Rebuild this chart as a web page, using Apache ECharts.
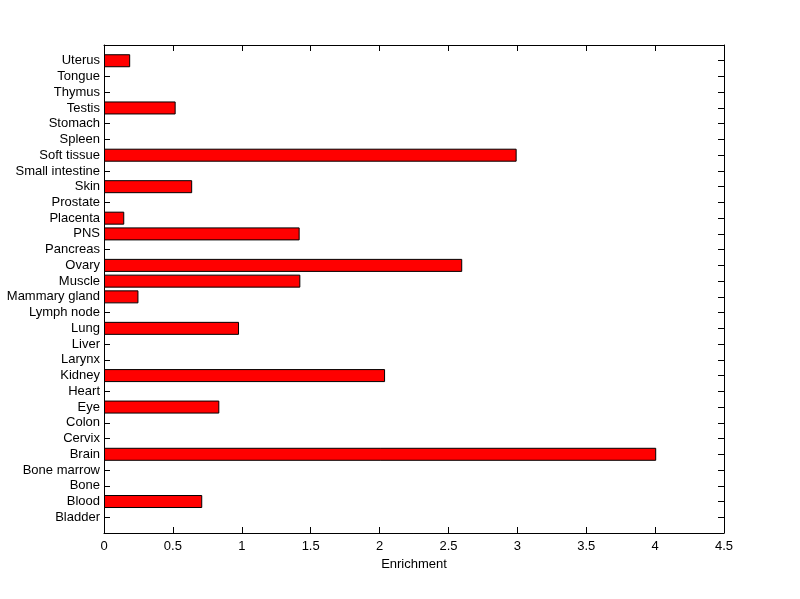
<!DOCTYPE html>
<html><head><meta charset="utf-8">
<script src="https://cdn.jsdelivr.net/npm/echarts@6/dist/echarts.min.js"></script>
<style>html,body{margin:0;padding:0;background:#fff}#c{width:800px;height:599px}</style>
</head><body><div id="c"></div>
<script>
const categories = ['Bladder','Blood','Bone','Bone marrow','Brain','Cervix','Colon','Eye','Heart','Kidney','Larynx','Liver','Lung','Lymph node','Mammary gland','Muscle','Ovary','Pancreas','PNS','Placenta','Prostate','Skin','Small intestine','Soft tissue','Spleen','Stomach','Testis','Thymus','Tongue','Uterus'];
const enrichment = [0,0.713,0,0,4.008,0,0,0.837,0,2.04,0,0,0.98,0,0.25,1.425,2.60,0,1.42,0.147,0,0.64,0,2.995,0,0,0.52,0,0,0.19];
const xTicks = [0,0.5,1,1.5,2,2.5,3,3.5,4,4.5];

const cats = [''].concat(categories, ['']);
const vals = [null].concat(enrichment.map(v => v === 0 ? null : v), [null]);
const font = 'Liberation Sans, Arial, sans-serif';
const chart = echarts.init(document.getElementById('c'), null, {renderer:'canvas'});
function xAx(pos, labels) {
  return {type:'value', min:0, max:4.5, interval:0.5, position:pos,
    axisLine:{show:true, onZero:false, lineStyle:{color:'#000', width:1}},
    axisTick:{show:true, inside:true, length:6, lineStyle:{color:'#000'}},
    splitLine:{show:false},
    axisLabel: labels ? {show:true, color:'#000', fontFamily:font, fontSize:13, margin:7,
      formatter: v => xTicks.includes(v) ? String(v) : ''} : {show:false}};
}
function yAx(pos, labels) {
  return {type:'category', data:cats, boundaryGap:false, position:pos,
    axisLine:{show:true, onZero:false, lineStyle:{color:'#000', width:1}},
    axisTick:{show:true, inside:true, length:6, interval:0, lineStyle:{color:'#000'}},
    splitLine:{show:false},
    axisLabel: labels ? {show:true, color:'#000', fontFamily:font, fontSize:13, margin:4, interval:0} : {show:false}};
}
const xb = xAx('bottom', true);
xb.name = 'Enrichment'; xb.nameLocation = 'middle'; xb.nameGap = 24;
xb.nameTextStyle = {color:'#000', fontFamily:font, fontSize:13};
chart.setOption({
  animation:false,
  backgroundColor:'#fff',
  grid:{left:104, right:76, top:45, bottom:66, containLabel:false},
  xAxis:[xb, xAx('top', false)],
  yAxis:[yAx('left', true), yAx('right', false)],
  series:[{type:'bar', data:vals, xAxisIndex:0, yAxisIndex:0, barWidth:13,
    itemStyle:{color:'#ff0000', borderColor:'#000', borderWidth:1}}]
});
</script></body></html>
